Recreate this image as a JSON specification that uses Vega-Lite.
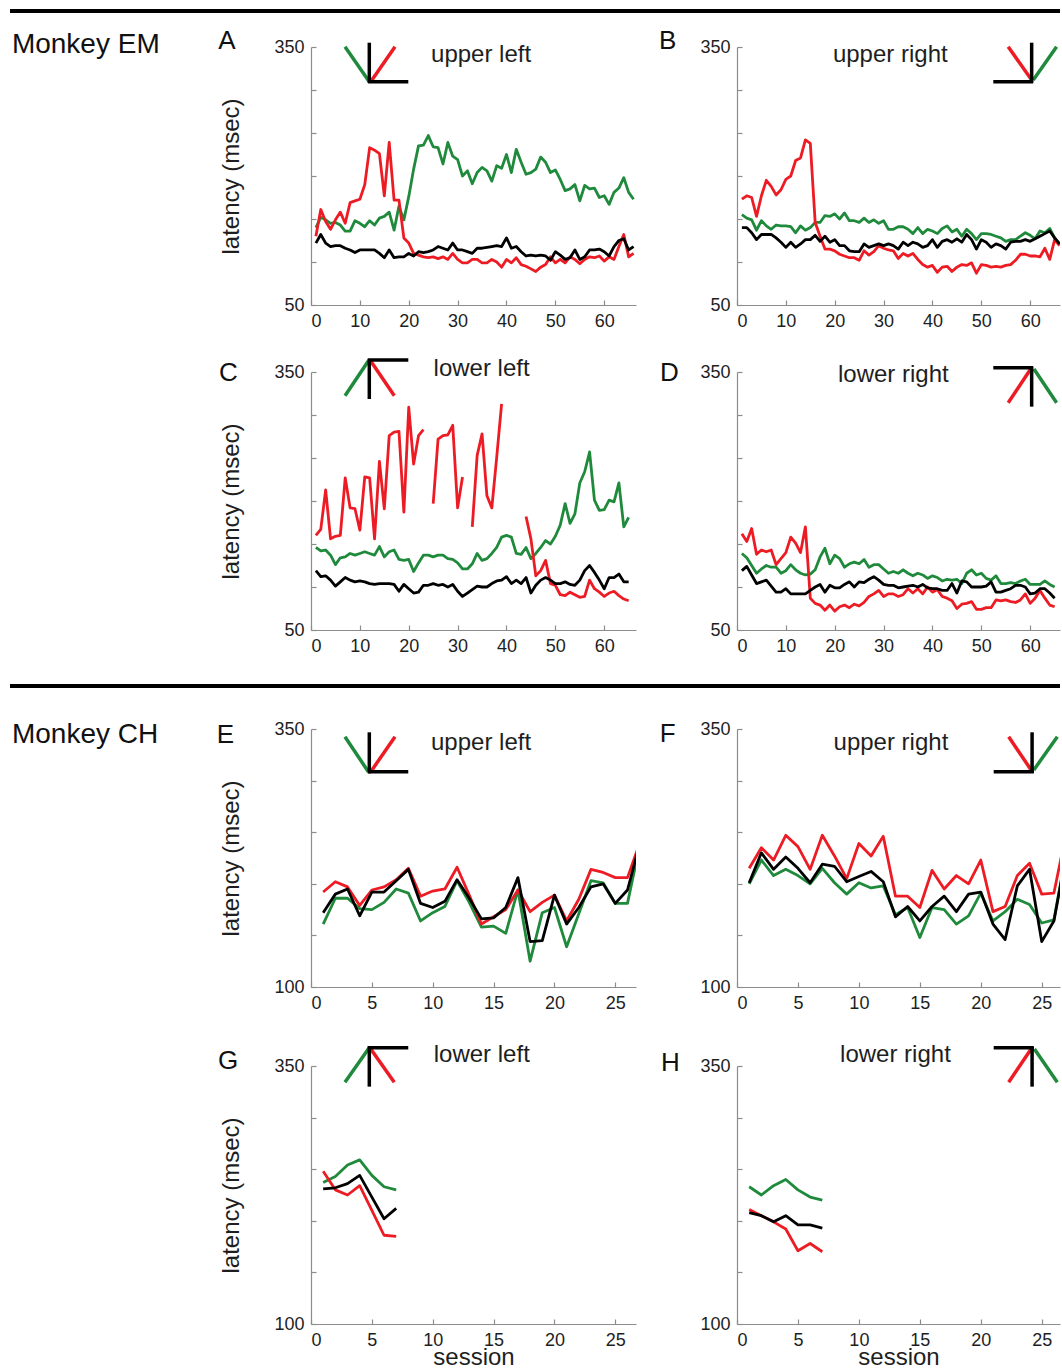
{
"$schema": "https://vega.github.io/schema/vega-lite/v6.json",
"background": "white",
"padding": {"left": 8, "top": 9, "right": 0, "bottom": 0},
"columns": 5,
"spacing": {"row": 0, "column": 0},
"align": "each",
"bounds": "flush",
"config": {
 "font": "Liberation Sans",
 "view": {"stroke": null},
 "axis": {"domainColor": "#8c8c8c", "domainWidth": 1.2, "tickColor": "#8c8c8c", "tickWidth": 1.2, "tickSize": -5, "labelPadding": 12, "labelFontSize": 18, "labelColor": "#1e1e1e", "grid": false, "titleFontSize": 24, "titleFontWeight": "normal", "titleColor": "#1e1e1e"},
 "axisY": {"titlePadding": 30},
 "axisX": {"titlePadding": -4}
},
"datasets": {
 "bar": [{"from": 0, "to": 1, "level": 1}],
 "panelA": [
{"session":1,"cond":"green","msec":140},{"session":2,"cond":"green","msec":152},{"session":3,"cond":"green","msec":149},{"session":4,"cond":"green","msec":145},{"session":5,"cond":"green","msec":146},{"session":6,"cond":"green","msec":143},{"session":7,"cond":"green","msec":136},{"session":8,"cond":"green","msec":136},{"session":9,"cond":"green","msec":148},{"session":10,"cond":"green","msec":145},{"session":11,"cond":"green","msec":141},{"session":12,"cond":"green","msec":148},{"session":13,"cond":"green","msec":143},{"session":14,"cond":"green","msec":151},{"session":15,"cond":"green","msec":153},{"session":16,"cond":"green","msec":158},{"session":17,"cond":"green","msec":137},{"session":18,"cond":"green","msec":165},{"session":19,"cond":"green","msec":149},{"session":20,"cond":"green","msec":176},{"session":21,"cond":"green","msec":208},{"session":22,"cond":"green","msec":235},{"session":23,"cond":"green","msec":236},{"session":24,"cond":"green","msec":247},{"session":25,"cond":"green","msec":234},{"session":26,"cond":"green","msec":233},{"session":27,"cond":"green","msec":214},{"session":28,"cond":"green","msec":239},{"session":29,"cond":"green","msec":223},{"session":30,"cond":"green","msec":219},{"session":31,"cond":"green","msec":200},{"session":32,"cond":"green","msec":206},{"session":33,"cond":"green","msec":191},{"session":34,"cond":"green","msec":204},{"session":35,"cond":"green","msec":210},{"session":36,"cond":"green","msec":206},{"session":37,"cond":"green","msec":194},{"session":38,"cond":"green","msec":212},{"session":39,"cond":"green","msec":209},{"session":40,"cond":"green","msec":225},{"session":41,"cond":"green","msec":204},{"session":42,"cond":"green","msec":231},{"session":43,"cond":"green","msec":216},{"session":44,"cond":"green","msec":202},{"session":45,"cond":"green","msec":204},{"session":46,"cond":"green","msec":208},{"session":47,"cond":"green","msec":222},{"session":48,"cond":"green","msec":216},{"session":49,"cond":"green","msec":204},{"session":50,"cond":"green","msec":207},{"session":51,"cond":"green","msec":196},{"session":52,"cond":"green","msec":183},{"session":53,"cond":"green","msec":185},{"session":54,"cond":"green","msec":190},{"session":55,"cond":"green","msec":171},{"session":56,"cond":"green","msec":189},{"session":57,"cond":"green","msec":185},{"session":58,"cond":"green","msec":186},{"session":59,"cond":"green","msec":175},{"session":60,"cond":"green","msec":177},{"session":61,"cond":"green","msec":167},{"session":62,"cond":"green","msec":181},{"session":63,"cond":"green","msec":186},{"session":64,"cond":"green","msec":198},{"session":65,"cond":"green","msec":181},{"session":66,"cond":"green","msec":173},
{"session":1,"cond":"red","msec":130},{"session":2,"cond":"red","msec":161},{"session":3,"cond":"red","msec":147},{"session":4,"cond":"red","msec":138},{"session":5,"cond":"red","msec":149},{"session":6,"cond":"red","msec":158},{"session":7,"cond":"red","msec":145},{"session":8,"cond":"red","msec":169},{"session":9,"cond":"red","msec":171},{"session":10,"cond":"red","msec":173},{"session":11,"cond":"red","msec":190},{"session":12,"cond":"red","msec":233},{"session":13,"cond":"red","msec":230},{"session":14,"cond":"red","msec":226},{"session":15,"cond":"red","msec":177},{"session":16,"cond":"red","msec":239},{"session":17,"cond":"red","msec":172},{"session":18,"cond":"red","msec":172},{"session":19,"cond":"red","msec":128},{"session":20,"cond":"red","msec":122},{"session":21,"cond":"red","msec":110},{"session":22,"cond":"red","msec":108},{"session":23,"cond":"red","msec":106},{"session":24,"cond":"red","msec":105},{"session":25,"cond":"red","msec":106},{"session":26,"cond":"red","msec":104},{"session":27,"cond":"red","msec":106},{"session":28,"cond":"red","msec":103},{"session":29,"cond":"red","msec":110},{"session":30,"cond":"red","msec":103},{"session":31,"cond":"red","msec":99},{"session":32,"cond":"red","msec":99},{"session":33,"cond":"red","msec":103},{"session":34,"cond":"red","msec":103},{"session":35,"cond":"red","msec":99},{"session":36,"cond":"red","msec":99},{"session":37,"cond":"red","msec":103},{"session":38,"cond":"red","msec":100},{"session":39,"cond":"red","msec":94},{"session":40,"cond":"red","msec":103},{"session":41,"cond":"red","msec":99},{"session":42,"cond":"red","msec":105},{"session":43,"cond":"red","msec":97},{"session":44,"cond":"red","msec":95},{"session":45,"cond":"red","msec":92},{"session":46,"cond":"red","msec":89},{"session":47,"cond":"red","msec":94},{"session":48,"cond":"red","msec":97},{"session":49,"cond":"red","msec":106},{"session":50,"cond":"red","msec":99},{"session":51,"cond":"red","msec":103},{"session":52,"cond":"red","msec":99},{"session":53,"cond":"red","msec":106},{"session":54,"cond":"red","msec":103},{"session":55,"cond":"red","msec":98},{"session":56,"cond":"red","msec":103},{"session":57,"cond":"red","msec":106},{"session":58,"cond":"red","msec":105},{"session":59,"cond":"red","msec":107},{"session":60,"cond":"red","msec":101},{"session":61,"cond":"red","msec":106},{"session":62,"cond":"red","msec":103},{"session":63,"cond":"red","msec":118},{"session":64,"cond":"red","msec":132},{"session":65,"cond":"red","msec":106},{"session":66,"cond":"red","msec":110},
{"session":1,"cond":"black","msec":122},{"session":2,"cond":"black","msec":132},{"session":3,"cond":"black","msec":122},{"session":4,"cond":"black","msec":118},{"session":5,"cond":"black","msec":119},{"session":6,"cond":"black","msec":119},{"session":7,"cond":"black","msec":116},{"session":8,"cond":"black","msec":114},{"session":9,"cond":"black","msec":111},{"session":10,"cond":"black","msec":114},{"session":11,"cond":"black","msec":114},{"session":12,"cond":"black","msec":114},{"session":13,"cond":"black","msec":114},{"session":14,"cond":"black","msec":110},{"session":15,"cond":"black","msec":105},{"session":16,"cond":"black","msec":114},{"session":17,"cond":"black","msec":105},{"session":18,"cond":"black","msec":106},{"session":19,"cond":"black","msec":106},{"session":20,"cond":"black","msec":110},{"session":21,"cond":"black","msec":107},{"session":22,"cond":"black","msec":112},{"session":23,"cond":"black","msec":111},{"session":24,"cond":"black","msec":112},{"session":25,"cond":"black","msec":114},{"session":26,"cond":"black","msec":118},{"session":27,"cond":"black","msec":116},{"session":28,"cond":"black","msec":114},{"session":29,"cond":"black","msec":122},{"session":30,"cond":"black","msec":114},{"session":31,"cond":"black","msec":114},{"session":32,"cond":"black","msec":112},{"session":33,"cond":"black","msec":110},{"session":34,"cond":"black","msec":116},{"session":35,"cond":"black","msec":116},{"session":36,"cond":"black","msec":117},{"session":37,"cond":"black","msec":118},{"session":38,"cond":"black","msec":119},{"session":39,"cond":"black","msec":118},{"session":40,"cond":"black","msec":128},{"session":41,"cond":"black","msec":116},{"session":42,"cond":"black","msec":118},{"session":43,"cond":"black","msec":112},{"session":44,"cond":"black","msec":107},{"session":45,"cond":"black","msec":108},{"session":46,"cond":"black","msec":107},{"session":47,"cond":"black","msec":108},{"session":48,"cond":"black","msec":107},{"session":49,"cond":"black","msec":102},{"session":50,"cond":"black","msec":112},{"session":51,"cond":"black","msec":108},{"session":52,"cond":"black","msec":103},{"session":53,"cond":"black","msec":105},{"session":54,"cond":"black","msec":114},{"session":55,"cond":"black","msec":103},{"session":56,"cond":"black","msec":106},{"session":57,"cond":"black","msec":114},{"session":58,"cond":"black","msec":114},{"session":59,"cond":"black","msec":115},{"session":60,"cond":"black","msec":112},{"session":61,"cond":"black","msec":107},{"session":62,"cond":"black","msec":118},{"session":63,"cond":"black","msec":125},{"session":64,"cond":"black","msec":127},{"session":65,"cond":"black","msec":114},{"session":66,"cond":"black","msec":118}
 ],
 "panelB": [
{"session":1,"cond":"green","msec":155},{"session":2,"cond":"green","msec":151},{"session":3,"cond":"green","msec":149},{"session":4,"cond":"green","msec":137},{"session":5,"cond":"green","msec":148},{"session":6,"cond":"green","msec":142},{"session":7,"cond":"green","msec":138},{"session":8,"cond":"green","msec":143},{"session":9,"cond":"green","msec":142},{"session":10,"cond":"green","msec":142},{"session":11,"cond":"green","msec":141},{"session":12,"cond":"green","msec":134},{"session":13,"cond":"green","msec":142},{"session":14,"cond":"green","msec":137},{"session":15,"cond":"green","msec":140},{"session":16,"cond":"green","msec":146},{"session":17,"cond":"green","msec":146},{"session":18,"cond":"green","msec":154},{"session":19,"cond":"green","msec":153},{"session":20,"cond":"green","msec":156},{"session":21,"cond":"green","msec":150},{"session":22,"cond":"green","msec":157},{"session":23,"cond":"green","msec":148},{"session":24,"cond":"green","msec":148},{"session":25,"cond":"green","msec":146},{"session":26,"cond":"green","msec":151},{"session":27,"cond":"green","msec":146},{"session":28,"cond":"green","msec":149},{"session":29,"cond":"green","msec":145},{"session":30,"cond":"green","msec":148},{"session":31,"cond":"green","msec":138},{"session":32,"cond":"green","msec":138},{"session":33,"cond":"green","msec":141},{"session":34,"cond":"green","msec":141},{"session":35,"cond":"green","msec":138},{"session":36,"cond":"green","msec":133},{"session":37,"cond":"green","msec":140},{"session":38,"cond":"green","msec":133},{"session":39,"cond":"green","msec":138},{"session":40,"cond":"green","msec":136},{"session":41,"cond":"green","msec":133},{"session":42,"cond":"green","msec":139},{"session":43,"cond":"green","msec":142},{"session":44,"cond":"green","msec":135},{"session":45,"cond":"green","msec":138},{"session":46,"cond":"green","msec":130},{"session":47,"cond":"green","msec":138},{"session":48,"cond":"green","msec":133},{"session":49,"cond":"green","msec":126},{"session":50,"cond":"green","msec":133},{"session":51,"cond":"green","msec":133},{"session":52,"cond":"green","msec":132},{"session":53,"cond":"green","msec":130},{"session":54,"cond":"green","msec":128},{"session":55,"cond":"green","msec":124},{"session":56,"cond":"green","msec":126},{"session":57,"cond":"green","msec":126},{"session":58,"cond":"green","msec":130},{"session":59,"cond":"green","msec":134},{"session":60,"cond":"green","msec":131},{"session":61,"cond":"green","msec":127},{"session":62,"cond":"green","msec":136},{"session":63,"cond":"green","msec":134},{"session":64,"cond":"green","msec":139},{"session":65,"cond":"green","msec":128},{"session":66,"cond":"green","msec":121},
{"session":1,"cond":"red","msec":173},{"session":2,"cond":"red","msec":177},{"session":3,"cond":"red","msec":175},{"session":4,"cond":"red","msec":153},{"session":5,"cond":"red","msec":177},{"session":6,"cond":"red","msec":195},{"session":7,"cond":"red","msec":188},{"session":8,"cond":"red","msec":178},{"session":9,"cond":"red","msec":184},{"session":10,"cond":"red","msec":196},{"session":11,"cond":"red","msec":200},{"session":12,"cond":"red","msec":218},{"session":13,"cond":"red","msec":221},{"session":14,"cond":"red","msec":242},{"session":15,"cond":"red","msec":238},{"session":16,"cond":"red","msec":146},{"session":17,"cond":"red","msec":130},{"session":18,"cond":"red","msec":115},{"session":19,"cond":"red","msec":115},{"session":20,"cond":"red","msec":113},{"session":21,"cond":"red","msec":109},{"session":22,"cond":"red","msec":107},{"session":23,"cond":"red","msec":105},{"session":24,"cond":"red","msec":105},{"session":25,"cond":"red","msec":102},{"session":26,"cond":"red","msec":113},{"session":27,"cond":"red","msec":108},{"session":28,"cond":"red","msec":112},{"session":29,"cond":"red","msec":119},{"session":30,"cond":"red","msec":116},{"session":31,"cond":"red","msec":114},{"session":32,"cond":"red","msec":113},{"session":33,"cond":"red","msec":104},{"session":34,"cond":"red","msec":110},{"session":35,"cond":"red","msec":107},{"session":36,"cond":"red","msec":110},{"session":37,"cond":"red","msec":103},{"session":38,"cond":"red","msec":97},{"session":39,"cond":"red","msec":94},{"session":40,"cond":"red","msec":96},{"session":41,"cond":"red","msec":88},{"session":42,"cond":"red","msec":94},{"session":43,"cond":"red","msec":95},{"session":44,"cond":"red","msec":89},{"session":45,"cond":"red","msec":94},{"session":46,"cond":"red","msec":97},{"session":47,"cond":"red","msec":96},{"session":48,"cond":"red","msec":99},{"session":49,"cond":"red","msec":87},{"session":50,"cond":"red","msec":97},{"session":51,"cond":"red","msec":96},{"session":52,"cond":"red","msec":94},{"session":53,"cond":"red","msec":95},{"session":54,"cond":"red","msec":94},{"session":55,"cond":"red","msec":96},{"session":56,"cond":"red","msec":97},{"session":57,"cond":"red","msec":102},{"session":58,"cond":"red","msec":109},{"session":59,"cond":"red","msec":109},{"session":60,"cond":"red","msec":107},{"session":61,"cond":"red","msec":107},{"session":62,"cond":"red","msec":106},{"session":63,"cond":"red","msec":116},{"session":64,"cond":"red","msec":103},{"session":65,"cond":"red","msec":126},{"session":66,"cond":"red","msec":119},
{"session":1,"cond":"black","msec":140},{"session":2,"cond":"black","msec":140},{"session":3,"cond":"black","msec":134},{"session":4,"cond":"black","msec":126},{"session":5,"cond":"black","msec":132},{"session":6,"cond":"black","msec":132},{"session":7,"cond":"black","msec":132},{"session":8,"cond":"black","msec":128},{"session":9,"cond":"black","msec":123},{"session":10,"cond":"black","msec":117},{"session":11,"cond":"black","msec":123},{"session":12,"cond":"black","msec":117},{"session":13,"cond":"black","msec":121},{"session":14,"cond":"black","msec":126},{"session":15,"cond":"black","msec":126},{"session":16,"cond":"black","msec":131},{"session":17,"cond":"black","msec":124},{"session":18,"cond":"black","msec":130},{"session":19,"cond":"black","msec":123},{"session":20,"cond":"black","msec":126},{"session":21,"cond":"black","msec":119},{"session":22,"cond":"black","msec":119},{"session":23,"cond":"black","msec":113},{"session":24,"cond":"black","msec":112},{"session":25,"cond":"black","msec":112},{"session":26,"cond":"black","msec":121},{"session":27,"cond":"black","msec":117},{"session":28,"cond":"black","msec":119},{"session":29,"cond":"black","msec":121},{"session":30,"cond":"black","msec":119},{"session":31,"cond":"black","msec":121},{"session":32,"cond":"black","msec":119},{"session":33,"cond":"black","msec":115},{"session":34,"cond":"black","msec":123},{"session":35,"cond":"black","msec":119},{"session":36,"cond":"black","msec":123},{"session":37,"cond":"black","msec":121},{"session":38,"cond":"black","msec":117},{"session":39,"cond":"black","msec":119},{"session":40,"cond":"black","msec":126},{"session":41,"cond":"black","msec":117},{"session":42,"cond":"black","msec":124},{"session":43,"cond":"black","msec":126},{"session":44,"cond":"black","msec":123},{"session":45,"cond":"black","msec":127},{"session":46,"cond":"black","msec":123},{"session":47,"cond":"black","msec":132},{"session":48,"cond":"black","msec":126},{"session":49,"cond":"black","msec":115},{"session":50,"cond":"black","msec":126},{"session":51,"cond":"black","msec":123},{"session":52,"cond":"black","msec":117},{"session":53,"cond":"black","msec":121},{"session":54,"cond":"black","msec":119},{"session":55,"cond":"black","msec":115},{"session":56,"cond":"black","msec":123},{"session":57,"cond":"black","msec":124},{"session":58,"cond":"black","msec":124},{"session":59,"cond":"black","msec":126},{"session":60,"cond":"black","msec":124},{"session":61,"cond":"black","msec":127},{"session":62,"cond":"black","msec":130},{"session":63,"cond":"black","msec":133},{"session":64,"cond":"black","msec":136},{"session":65,"cond":"black","msec":128},{"session":66,"cond":"black","msec":121}
 ],
 "panelC": [
{"session":1,"cond":"green","msec":146},{"session":2,"cond":"green","msec":142},{"session":3,"cond":"green","msec":143},{"session":4,"cond":"green","msec":137},{"session":5,"cond":"green","msec":126},{"session":6,"cond":"green","msec":134},{"session":7,"cond":"green","msec":135},{"session":8,"cond":"green","msec":139},{"session":9,"cond":"green","msec":137},{"session":10,"cond":"green","msec":139},{"session":11,"cond":"green","msec":141},{"session":12,"cond":"green","msec":139},{"session":13,"cond":"green","msec":137},{"session":14,"cond":"green","msec":147},{"session":15,"cond":"green","msec":135},{"session":16,"cond":"green","msec":141},{"session":17,"cond":"green","msec":143},{"session":18,"cond":"green","msec":132},{"session":19,"cond":"green","msec":131},{"session":20,"cond":"green","msec":132},{"session":21,"cond":"green","msec":118},{"session":22,"cond":"green","msec":128},{"session":23,"cond":"green","msec":137},{"session":24,"cond":"green","msec":137},{"session":25,"cond":"green","msec":135},{"session":26,"cond":"green","msec":137},{"session":27,"cond":"green","msec":137},{"session":28,"cond":"green","msec":133},{"session":29,"cond":"green","msec":132},{"session":30,"cond":"green","msec":128},{"session":31,"cond":"green","msec":121},{"session":32,"cond":"green","msec":121},{"session":33,"cond":"green","msec":127},{"session":34,"cond":"green","msec":139},{"session":35,"cond":"green","msec":131},{"session":36,"cond":"green","msec":133},{"session":37,"cond":"green","msec":139},{"session":38,"cond":"green","msec":146},{"session":39,"cond":"green","msec":158},{"session":40,"cond":"green","msec":160},{"session":41,"cond":"green","msec":158},{"session":42,"cond":"green","msec":139},{"session":43,"cond":"green","msec":138},{"session":44,"cond":"green","msec":146},{"session":45,"cond":"green","msec":133},{"session":46,"cond":"green","msec":139},{"session":47,"cond":"green","msec":146},{"session":48,"cond":"green","msec":154},{"session":49,"cond":"green","msec":150},{"session":50,"cond":"green","msec":159},{"session":51,"cond":"green","msec":172},{"session":52,"cond":"green","msec":197},{"session":53,"cond":"green","msec":174},{"session":54,"cond":"green","msec":185},{"session":55,"cond":"green","msec":221},{"session":56,"cond":"green","msec":234},{"session":57,"cond":"green","msec":257},{"session":58,"cond":"green","msec":201},{"session":59,"cond":"green","msec":189},{"session":60,"cond":"green","msec":190},{"session":61,"cond":"green","msec":201},{"session":62,"cond":"green","msec":199},{"session":63,"cond":"green","msec":221},{"session":64,"cond":"green","msec":170},{"session":65,"cond":"green","msec":181},
{"session":1,"cond":"red","run":1,"msec":160},{"session":2,"cond":"red","run":1,"msec":167},{"session":3,"cond":"red","run":1,"msec":213},{"session":4,"cond":"red","run":1,"msec":156},{"session":5,"cond":"red","run":1,"msec":159},{"session":6,"cond":"red","run":1,"msec":160},{"session":7,"cond":"red","run":1,"msec":227},{"session":8,"cond":"red","run":1,"msec":192},{"session":9,"cond":"red","run":1,"msec":191},{"session":10,"cond":"red","run":1,"msec":166},{"session":11,"cond":"red","run":1,"msec":228},{"session":12,"cond":"red","run":1,"msec":227},{"session":13,"cond":"red","run":1,"msec":156},{"session":14,"cond":"red","run":1,"msec":246},{"session":15,"cond":"red","run":1,"msec":191},{"session":16,"cond":"red","run":1,"msec":276},{"session":17,"cond":"red","run":1,"msec":280},{"session":18,"cond":"red","run":1,"msec":281},{"session":19,"cond":"red","run":1,"msec":187},{"session":20,"cond":"red","run":1,"msec":309},{"session":21,"cond":"red","run":1,"msec":243},{"session":22,"cond":"red","run":1,"msec":276},{"session":23,"cond":"red","run":1,"msec":283},
{"session":25,"cond":"red","run":2,"msec":197},{"session":26,"cond":"red","run":2,"msec":272},{"session":27,"cond":"red","run":2,"msec":276},{"session":28,"cond":"red","run":2,"msec":277},{"session":29,"cond":"red","run":2,"msec":288},{"session":30,"cond":"red","run":2,"msec":192},{"session":31,"cond":"red","run":2,"msec":228},
{"session":33,"cond":"red","run":3,"msec":170},{"session":34,"cond":"red","run":3,"msec":253},{"session":35,"cond":"red","run":3,"msec":278},{"session":36,"cond":"red","run":3,"msec":206},{"session":37,"cond":"red","run":3,"msec":192},{"session":38,"cond":"red","run":3,"msec":251},{"session":39,"cond":"red","run":3,"msec":313},
{"session":44,"cond":"red","run":4,"msec":182},{"session":45,"cond":"red","run":4,"msec":156},{"session":46,"cond":"red","run":4,"msec":113},{"session":47,"cond":"red","run":4,"msec":119},{"session":48,"cond":"red","run":4,"msec":131},{"session":49,"cond":"red","run":4,"msec":104},{"session":50,"cond":"red","run":4,"msec":102},{"session":51,"cond":"red","run":4,"msec":91},{"session":52,"cond":"red","run":4,"msec":90},{"session":53,"cond":"red","run":4,"msec":94},{"session":54,"cond":"red","run":4,"msec":91},{"session":55,"cond":"red","run":4,"msec":88},{"session":56,"cond":"red","run":4,"msec":89},{"session":57,"cond":"red","run":4,"msec":108},{"session":58,"cond":"red","run":4,"msec":98},{"session":59,"cond":"red","run":4,"msec":94},{"session":60,"cond":"red","run":4,"msec":89},{"session":61,"cond":"red","run":4,"msec":93},{"session":62,"cond":"red","run":4,"msec":95},{"session":63,"cond":"red","run":4,"msec":90},{"session":64,"cond":"red","run":4,"msec":86},{"session":65,"cond":"red","run":4,"msec":84},
{"session":1,"cond":"black","msec":119},{"session":2,"cond":"black","msec":112},{"session":3,"cond":"black","msec":113},{"session":4,"cond":"black","msec":108},{"session":5,"cond":"black","msec":101},{"session":6,"cond":"black","msec":106},{"session":7,"cond":"black","msec":111},{"session":8,"cond":"black","msec":108},{"session":9,"cond":"black","msec":106},{"session":10,"cond":"black","msec":107},{"session":11,"cond":"black","msec":106},{"session":12,"cond":"black","msec":104},{"session":13,"cond":"black","msec":103},{"session":14,"cond":"black","msec":104},{"session":15,"cond":"black","msec":104},{"session":16,"cond":"black","msec":104},{"session":17,"cond":"black","msec":103},{"session":18,"cond":"black","msec":95},{"session":19,"cond":"black","msec":103},{"session":20,"cond":"black","msec":98},{"session":21,"cond":"black","msec":93},{"session":22,"cond":"black","msec":94},{"session":23,"cond":"black","msec":102},{"session":24,"cond":"black","msec":102},{"session":25,"cond":"black","msec":104},{"session":26,"cond":"black","msec":102},{"session":27,"cond":"black","msec":103},{"session":28,"cond":"black","msec":100},{"session":29,"cond":"black","msec":103},{"session":30,"cond":"black","msec":95},{"session":31,"cond":"black","msec":89},{"session":32,"cond":"black","msec":93},{"session":33,"cond":"black","msec":97},{"session":34,"cond":"black","msec":101},{"session":35,"cond":"black","msec":100},{"session":36,"cond":"black","msec":100},{"session":37,"cond":"black","msec":104},{"session":38,"cond":"black","msec":107},{"session":39,"cond":"black","msec":108},{"session":40,"cond":"black","msec":112},{"session":41,"cond":"black","msec":104},{"session":42,"cond":"black","msec":108},{"session":43,"cond":"black","msec":104},{"session":44,"cond":"black","msec":111},{"session":45,"cond":"black","msec":93},{"session":46,"cond":"black","msec":102},{"session":47,"cond":"black","msec":108},{"session":48,"cond":"black","msec":111},{"session":49,"cond":"black","msec":108},{"session":50,"cond":"black","msec":104},{"session":51,"cond":"black","msec":104},{"session":52,"cond":"black","msec":106},{"session":53,"cond":"black","msec":103},{"session":54,"cond":"black","msec":102},{"session":55,"cond":"black","msec":108},{"session":56,"cond":"black","msec":119},{"session":57,"cond":"black","msec":125},{"session":58,"cond":"black","msec":117},{"session":59,"cond":"black","msec":108},{"session":60,"cond":"black","msec":98},{"session":61,"cond":"black","msec":111},{"session":62,"cond":"black","msec":111},{"session":63,"cond":"black","msec":115},{"session":64,"cond":"black","msec":106},{"session":65,"cond":"black","msec":106}
 ],
 "panelD": [
{"session":1,"cond":"green","msec":139},{"session":2,"cond":"green","msec":134},{"session":3,"cond":"green","msec":125},{"session":4,"cond":"green","msec":116},{"session":5,"cond":"green","msec":121},{"session":6,"cond":"green","msec":125},{"session":7,"cond":"green","msec":123},{"session":8,"cond":"green","msec":123},{"session":9,"cond":"green","msec":116},{"session":10,"cond":"green","msec":119},{"session":11,"cond":"green","msec":126},{"session":12,"cond":"green","msec":120},{"session":13,"cond":"green","msec":116},{"session":14,"cond":"green","msec":114},{"session":15,"cond":"green","msec":115},{"session":16,"cond":"green","msec":120},{"session":17,"cond":"green","msec":135},{"session":18,"cond":"green","msec":145},{"session":19,"cond":"green","msec":127},{"session":20,"cond":"green","msec":137},{"session":21,"cond":"green","msec":133},{"session":22,"cond":"green","msec":123},{"session":23,"cond":"green","msec":127},{"session":24,"cond":"green","msec":129},{"session":25,"cond":"green","msec":127},{"session":26,"cond":"green","msec":132},{"session":27,"cond":"green","msec":123},{"session":28,"cond":"green","msec":126},{"session":29,"cond":"green","msec":126},{"session":30,"cond":"green","msec":121},{"session":31,"cond":"green","msec":116},{"session":32,"cond":"green","msec":118},{"session":33,"cond":"green","msec":116},{"session":34,"cond":"green","msec":120},{"session":35,"cond":"green","msec":116},{"session":36,"cond":"green","msec":113},{"session":37,"cond":"green","msec":116},{"session":38,"cond":"green","msec":114},{"session":39,"cond":"green","msec":110},{"session":40,"cond":"green","msec":113},{"session":41,"cond":"green","msec":111},{"session":42,"cond":"green","msec":107},{"session":43,"cond":"green","msec":109},{"session":44,"cond":"green","msec":108},{"session":45,"cond":"green","msec":109},{"session":46,"cond":"green","msec":104},{"session":47,"cond":"green","msec":116},{"session":48,"cond":"green","msec":120},{"session":49,"cond":"green","msec":114},{"session":50,"cond":"green","msec":116},{"session":51,"cond":"green","msec":110},{"session":52,"cond":"green","msec":108},{"session":53,"cond":"green","msec":113},{"session":54,"cond":"green","msec":104},{"session":55,"cond":"green","msec":104},{"session":56,"cond":"green","msec":105},{"session":57,"cond":"green","msec":104},{"session":58,"cond":"green","msec":107},{"session":59,"cond":"green","msec":109},{"session":60,"cond":"green","msec":103},{"session":61,"cond":"green","msec":103},{"session":62,"cond":"green","msec":103},{"session":63,"cond":"green","msec":107},{"session":64,"cond":"green","msec":103},{"session":65,"cond":"green","msec":100},
{"session":1,"cond":"red","msec":162},{"session":2,"cond":"red","msec":153},{"session":3,"cond":"red","msec":168},{"session":4,"cond":"red","msec":138},{"session":5,"cond":"red","msec":143},{"session":6,"cond":"red","msec":141},{"session":7,"cond":"red","msec":143},{"session":8,"cond":"red","msec":126},{"session":9,"cond":"red","msec":133},{"session":10,"cond":"red","msec":140},{"session":11,"cond":"red","msec":158},{"session":12,"cond":"red","msec":151},{"session":13,"cond":"red","msec":140},{"session":14,"cond":"red","msec":170},{"session":15,"cond":"red","msec":87},{"session":16,"cond":"red","msec":81},{"session":17,"cond":"red","msec":79},{"session":18,"cond":"red","msec":73},{"session":19,"cond":"red","msec":79},{"session":20,"cond":"red","msec":72},{"session":21,"cond":"red","msec":77},{"session":22,"cond":"red","msec":79},{"session":23,"cond":"red","msec":76},{"session":24,"cond":"red","msec":80},{"session":25,"cond":"red","msec":78},{"session":26,"cond":"red","msec":82},{"session":27,"cond":"red","msec":89},{"session":28,"cond":"red","msec":92},{"session":29,"cond":"red","msec":96},{"session":30,"cond":"red","msec":89},{"session":31,"cond":"red","msec":92},{"session":32,"cond":"red","msec":92},{"session":33,"cond":"red","msec":89},{"session":34,"cond":"red","msec":91},{"session":35,"cond":"red","msec":98},{"session":36,"cond":"red","msec":93},{"session":37,"cond":"red","msec":98},{"session":38,"cond":"red","msec":92},{"session":39,"cond":"red","msec":100},{"session":40,"cond":"red","msec":94},{"session":41,"cond":"red","msec":97},{"session":42,"cond":"red","msec":89},{"session":43,"cond":"red","msec":87},{"session":44,"cond":"red","msec":84},{"session":45,"cond":"red","msec":75},{"session":46,"cond":"red","msec":80},{"session":47,"cond":"red","msec":81},{"session":48,"cond":"red","msec":83},{"session":49,"cond":"red","msec":74},{"session":50,"cond":"red","msec":74},{"session":51,"cond":"red","msec":76},{"session":52,"cond":"red","msec":76},{"session":53,"cond":"red","msec":85},{"session":54,"cond":"red","msec":84},{"session":55,"cond":"red","msec":85},{"session":56,"cond":"red","msec":83},{"session":57,"cond":"red","msec":82},{"session":58,"cond":"red","msec":85},{"session":59,"cond":"red","msec":92},{"session":60,"cond":"red","msec":81},{"session":61,"cond":"red","msec":87},{"session":62,"cond":"red","msec":96},{"session":63,"cond":"red","msec":87},{"session":64,"cond":"red","msec":79},{"session":65,"cond":"red","msec":77},
{"session":1,"cond":"black","msec":119},{"session":2,"cond":"black","msec":124},{"session":3,"cond":"black","msec":114},{"session":4,"cond":"black","msec":104},{"session":5,"cond":"black","msec":106},{"session":6,"cond":"black","msec":108},{"session":7,"cond":"black","msec":101},{"session":8,"cond":"black","msec":94},{"session":9,"cond":"black","msec":94},{"session":10,"cond":"black","msec":98},{"session":11,"cond":"black","msec":92},{"session":12,"cond":"black","msec":92},{"session":13,"cond":"black","msec":92},{"session":14,"cond":"black","msec":92},{"session":15,"cond":"black","msec":96},{"session":16,"cond":"black","msec":100},{"session":17,"cond":"black","msec":103},{"session":18,"cond":"black","msec":94},{"session":19,"cond":"black","msec":102},{"session":20,"cond":"black","msec":99},{"session":21,"cond":"black","msec":99},{"session":22,"cond":"black","msec":103},{"session":23,"cond":"black","msec":106},{"session":24,"cond":"black","msec":100},{"session":25,"cond":"black","msec":106},{"session":26,"cond":"black","msec":105},{"session":27,"cond":"black","msec":109},{"session":28,"cond":"black","msec":112},{"session":29,"cond":"black","msec":108},{"session":30,"cond":"black","msec":103},{"session":31,"cond":"black","msec":102},{"session":32,"cond":"black","msec":102},{"session":33,"cond":"black","msec":99},{"session":34,"cond":"black","msec":100},{"session":35,"cond":"black","msec":101},{"session":36,"cond":"black","msec":102},{"session":37,"cond":"black","msec":100},{"session":38,"cond":"black","msec":103},{"session":39,"cond":"black","msec":99},{"session":40,"cond":"black","msec":98},{"session":41,"cond":"black","msec":98},{"session":42,"cond":"black","msec":96},{"session":43,"cond":"black","msec":96},{"session":44,"cond":"black","msec":104},{"session":45,"cond":"black","msec":93},{"session":46,"cond":"black","msec":107},{"session":47,"cond":"black","msec":106},{"session":48,"cond":"black","msec":100},{"session":49,"cond":"black","msec":100},{"session":50,"cond":"black","msec":100},{"session":51,"cond":"black","msec":101},{"session":52,"cond":"black","msec":106},{"session":53,"cond":"black","msec":94},{"session":54,"cond":"black","msec":94},{"session":55,"cond":"black","msec":96},{"session":56,"cond":"black","msec":98},{"session":57,"cond":"black","msec":102},{"session":58,"cond":"black","msec":102},{"session":59,"cond":"black","msec":100},{"session":60,"cond":"black","msec":92},{"session":61,"cond":"black","msec":93},{"session":62,"cond":"black","msec":98},{"session":63,"cond":"black","msec":98},{"session":64,"cond":"black","msec":93},{"session":65,"cond":"black","msec":87}
 ],
 "panelE": [
{"session":1,"cond":"green","msec":161},{"session":2,"cond":"green","msec":186},{"session":3,"cond":"green","msec":186},{"session":4,"cond":"green","msec":176},{"session":5,"cond":"green","msec":175},{"session":6,"cond":"green","msec":182},{"session":7,"cond":"green","msec":195},{"session":8,"cond":"green","msec":191},{"session":9,"cond":"green","msec":164},{"session":10,"cond":"green","msec":172},{"session":11,"cond":"green","msec":178},{"session":12,"cond":"green","msec":203},{"session":13,"cond":"green","msec":182},{"session":14,"cond":"green","msec":158},{"session":15,"cond":"green","msec":159},{"session":16,"cond":"green","msec":152},{"session":17,"cond":"green","msec":194},{"session":18,"cond":"green","msec":125},{"session":19,"cond":"green","msec":172},{"session":20,"cond":"green","msec":177},{"session":21,"cond":"green","msec":139},{"session":22,"cond":"green","msec":171},{"session":23,"cond":"green","msec":203},{"session":24,"cond":"green","msec":201},{"session":25,"cond":"green","msec":181},{"session":26,"cond":"green","msec":181},{"session":27,"cond":"green","msec":237},
{"session":1,"cond":"red","msec":192},{"session":2,"cond":"red","msec":202},{"session":3,"cond":"red","msec":197},{"session":4,"cond":"red","msec":179},{"session":5,"cond":"red","msec":194},{"session":6,"cond":"red","msec":197},{"session":7,"cond":"red","msec":204},{"session":8,"cond":"red","msec":215},{"session":9,"cond":"red","msec":188},{"session":10,"cond":"red","msec":193},{"session":11,"cond":"red","msec":195},{"session":12,"cond":"red","msec":216},{"session":13,"cond":"red","msec":189},{"session":14,"cond":"red","msec":161},{"session":15,"cond":"red","msec":168},{"session":16,"cond":"red","msec":175},{"session":17,"cond":"red","msec":194},{"session":18,"cond":"red","msec":173},{"session":19,"cond":"red","msec":182},{"session":20,"cond":"red","msec":189},{"session":21,"cond":"red","msec":164},{"session":22,"cond":"red","msec":185},{"session":23,"cond":"red","msec":214},{"session":24,"cond":"red","msec":211},{"session":25,"cond":"red","msec":206},{"session":26,"cond":"red","msec":206},{"session":27,"cond":"red","msec":239},
{"session":1,"cond":"black","msec":172},{"session":2,"cond":"black","msec":190},{"session":3,"cond":"black","msec":195},{"session":4,"cond":"black","msec":169},{"session":5,"cond":"black","msec":192},{"session":6,"cond":"black","msec":192},{"session":7,"cond":"black","msec":203},{"session":8,"cond":"black","msec":214},{"session":9,"cond":"black","msec":181},{"session":10,"cond":"black","msec":177},{"session":11,"cond":"black","msec":183},{"session":12,"cond":"black","msec":204},{"session":13,"cond":"black","msec":186},{"session":14,"cond":"black","msec":166},{"session":15,"cond":"black","msec":167},{"session":16,"cond":"black","msec":177},{"session":17,"cond":"black","msec":206},{"session":18,"cond":"black","msec":144},{"session":19,"cond":"black","msec":145},{"session":20,"cond":"black","msec":189},{"session":21,"cond":"black","msec":161},{"session":22,"cond":"black","msec":177},{"session":23,"cond":"black","msec":197},{"session":24,"cond":"black","msec":200},{"session":25,"cond":"black","msec":181},{"session":26,"cond":"black","msec":194},{"session":27,"cond":"black","msec":238}
 ],
 "panelF": [
{"session":1,"cond":"green","msec":200},{"session":2,"cond":"green","msec":223},{"session":3,"cond":"green","msec":208},{"session":4,"cond":"green","msec":214},{"session":5,"cond":"green","msec":208},{"session":6,"cond":"green","msec":200},{"session":7,"cond":"green","msec":215},{"session":8,"cond":"green","msec":201},{"session":9,"cond":"green","msec":190},{"session":10,"cond":"green","msec":201},{"session":11,"cond":"green","msec":196},{"session":12,"cond":"green","msec":198},{"session":13,"cond":"green","msec":170},{"session":14,"cond":"green","msec":177},{"session":15,"cond":"green","msec":148},{"session":16,"cond":"green","msec":177},{"session":17,"cond":"green","msec":175},{"session":18,"cond":"green","msec":161},{"session":19,"cond":"green","msec":169},{"session":20,"cond":"green","msec":191},{"session":21,"cond":"green","msec":164},{"session":22,"cond":"green","msec":173},{"session":23,"cond":"green","msec":185},{"session":24,"cond":"green","msec":180},{"session":25,"cond":"green","msec":162},{"session":26,"cond":"green","msec":165},{"session":27,"cond":"green","msec":230},
{"session":1,"cond":"red","msec":215},{"session":2,"cond":"red","msec":235},{"session":3,"cond":"red","msec":223},{"session":4,"cond":"red","msec":247},{"session":5,"cond":"red","msec":236},{"session":6,"cond":"red","msec":214},{"session":7,"cond":"red","msec":247},{"session":8,"cond":"red","msec":227},{"session":9,"cond":"red","msec":205},{"session":10,"cond":"red","msec":239},{"session":11,"cond":"red","msec":227},{"session":12,"cond":"red","msec":246},{"session":13,"cond":"red","msec":188},{"session":14,"cond":"red","msec":188},{"session":15,"cond":"red","msec":177},{"session":16,"cond":"red","msec":213},{"session":17,"cond":"red","msec":195},{"session":18,"cond":"red","msec":208},{"session":19,"cond":"red","msec":200},{"session":20,"cond":"red","msec":223},{"session":21,"cond":"red","msec":173},{"session":22,"cond":"red","msec":178},{"session":23,"cond":"red","msec":208},{"session":24,"cond":"red","msec":220},{"session":25,"cond":"red","msec":190},{"session":26,"cond":"red","msec":191},{"session":27,"cond":"red","msec":249},
{"session":1,"cond":"black","msec":201},{"session":2,"cond":"black","msec":230},{"session":3,"cond":"black","msec":214},{"session":4,"cond":"black","msec":226},{"session":5,"cond":"black","msec":215},{"session":6,"cond":"black","msec":201},{"session":7,"cond":"black","msec":219},{"session":8,"cond":"black","msec":217},{"session":9,"cond":"black","msec":202},{"session":10,"cond":"black","msec":207},{"session":11,"cond":"black","msec":212},{"session":12,"cond":"black","msec":202},{"session":13,"cond":"black","msec":168},{"session":14,"cond":"black","msec":178},{"session":15,"cond":"black","msec":164},{"session":16,"cond":"black","msec":178},{"session":17,"cond":"black","msec":188},{"session":18,"cond":"black","msec":173},{"session":19,"cond":"black","msec":190},{"session":20,"cond":"black","msec":192},{"session":21,"cond":"black","msec":161},{"session":22,"cond":"black","msec":146},{"session":23,"cond":"black","msec":198},{"session":24,"cond":"black","msec":214},{"session":25,"cond":"black","msec":144},{"session":26,"cond":"black","msec":164},{"session":27,"cond":"black","msec":228}
 ],
 "panelG": [
{"session":1,"cond":"green","msec":237},{"session":2,"cond":"green","msec":243},{"session":3,"cond":"green","msec":254},{"session":4,"cond":"green","msec":259},{"session":5,"cond":"green","msec":244},{"session":6,"cond":"green","msec":233},{"session":7,"cond":"green","msec":230},
{"session":1,"cond":"red","msec":248},{"session":2,"cond":"red","msec":230},{"session":3,"cond":"red","msec":225},{"session":4,"cond":"red","msec":234},{"session":5,"cond":"red","msec":210},{"session":6,"cond":"red","msec":186},{"session":7,"cond":"red","msec":185},
{"session":1,"cond":"black","msec":231},{"session":2,"cond":"black","msec":232},{"session":3,"cond":"black","msec":236},{"session":4,"cond":"black","msec":244},{"session":5,"cond":"black","msec":223},{"session":6,"cond":"black","msec":202},{"session":7,"cond":"black","msec":212}
 ],
 "panelH": [
{"session":1,"cond":"green","msec":233},{"session":2,"cond":"green","msec":225},{"session":3,"cond":"green","msec":234},{"session":4,"cond":"green","msec":240},{"session":5,"cond":"green","msec":230},{"session":6,"cond":"green","msec":223},{"session":7,"cond":"green","msec":220},
{"session":1,"cond":"red","msec":211},{"session":2,"cond":"red","msec":205},{"session":3,"cond":"red","msec":199},{"session":4,"cond":"red","msec":192},{"session":5,"cond":"red","msec":171},{"session":6,"cond":"red","msec":178},{"session":7,"cond":"red","msec":170},
{"session":1,"cond":"black","msec":208},{"session":2,"cond":"black","msec":205},{"session":3,"cond":"black","msec":199},{"session":4,"cond":"black","msec":205},{"session":5,"cond":"black","msec":196},{"session":6,"cond":"black","msec":196},{"session":7,"cond":"black","msec":193}
 ],
 "iconA": [
{"session":6.96,"msec":350.3,"session2":11.93,"msec2":309.7,"cond":"green"},
{"session":12.22,"msec":309.7,"session2":17.19,"msec2":350.3,"cond":"red"},
{"session":11.93,"msec":355,"session2":11.93,"msec2":308.5,"cond":"black"},
{"session":11.7,"msec":309.7,"session2":19.91,"msec2":309.7,"cond":"black"}
 ],
 "iconB": [
{"session":55.5,"msec":350.3,"session2":60.3,"msec2":311.6,"cond":"red"},
{"session":60.63,"msec":311.6,"session2":65.4,"msec2":350.3,"cond":"green"},
{"session":60.3,"msec":355,"session2":60.3,"msec2":308.5,"cond":"black"},
{"session":52.45,"msec":309.7,"session2":60.6,"msec2":309.7,"cond":"black"}
 ],
 "iconC": [
{"session":6.96,"msec":322.4,"session2":11.73,"msec2":362.8,"cond":"green"},
{"session":12.22,"msec":362.8,"session2":17.05,"msec2":322.4,"cond":"red"},
{"session":11.93,"msec":365.1,"session2":11.93,"msec2":318.6,"cond":"black"},
{"session":11.6,"msec":364,"session2":19.91,"msec2":364,"cond":"black"}
 ],
 "iconD": [
{"session":55.5,"msec":314.2,"session2":60.1,"msec2":353.5,"cond":"red"},
{"session":60.77,"msec":353.5,"session2":65.4,"msec2":314.2,"cond":"green"},
{"session":60.3,"msec":356.2,"session2":60.3,"msec2":309.7,"cond":"black"},
{"session":52.45,"msec":355,"session2":60.6,"msec2":355,"cond":"black"}
 ],
 "iconE": [
{"session":2.79,"msec":342.5,"session2":4.71,"msec2":308.6,"cond":"green"},
{"session":4.91,"msec":308.6,"session2":6.9,"msec2":342.5,"cond":"red"},
{"session":4.79,"msec":346.8,"session2":4.79,"msec2":307,"cond":"black"},
{"session":4.7,"msec":308.6,"session2":7.99,"msec2":308.6,"cond":"black"}
 ],
 "iconF": [
{"session":22.29,"msec":342.5,"session2":24.13,"msec2":310.3,"cond":"red"},
{"session":24.35,"msec":310.3,"session2":26.28,"msec2":342.5,"cond":"green"},
{"session":24.21,"msec":346.8,"session2":24.21,"msec2":307.5,"cond":"black"},
{"session":21.06,"msec":308.6,"session2":24.35,"msec2":308.6,"cond":"black"}
 ],
 "iconG": [
{"session":2.79,"msec":334.2,"session2":4.71,"msec2":366.5,"cond":"green"},
{"session":4.91,"msec":366.5,"session2":6.84,"msec2":334.2,"cond":"red"},
{"session":4.79,"msec":368.6,"session2":4.79,"msec2":330,"cond":"black"},
{"session":4.65,"msec":367.7,"session2":7.99,"msec2":367.7,"cond":"black"}
 ],
 "iconH": [
{"session":22.29,"msec":334.2,"session2":24.13,"msec2":366.5,"cond":"red"},
{"session":24.4,"msec":366.5,"session2":26.28,"msec2":334.2,"cond":"green"},
{"session":24.21,"msec":368.6,"session2":24.21,"msec2":330,"cond":"black"},
{"session":21.06,"msec":367.7,"session2":24.35,"msec2":367.7,"cond":"black"}
 ]
},
"concat": [
 {"width": 200, "height": 36, "data": {"name": "bar"}, "mark": {"type": "rule", "color": "#000000", "strokeWidth": 4, "strokeCap": "butt"}, "encoding": {"x": {"field": "from", "type": "quantitative", "scale": {"domain": [0, 1], "nice": false}, "axis": null}, "x2": {"field": "to"}, "y": {"field": "level", "type": "quantitative", "scale": {"domain": [0, 1], "nice": false}, "axis": null}}},
 {"width": 101, "height": 36, "data": {"name": "bar"}, "mark": {"type": "rule", "color": "#000000", "strokeWidth": 4, "strokeCap": "butt"}, "encoding": {"x": {"field": "from", "type": "quantitative", "scale": {"domain": [0, 1], "nice": false}, "axis": null}, "x2": {"field": "to"}, "y": {"field": "level", "type": "quantitative", "scale": {"domain": [0, 1], "nice": false}, "axis": null}}},
 {"width": 325, "height": 36, "data": {"name": "bar"}, "mark": {"type": "rule", "color": "#000000", "strokeWidth": 4, "strokeCap": "butt"}, "encoding": {"x": {"field": "from", "type": "quantitative", "scale": {"domain": [0, 1], "nice": false}, "axis": null}, "x2": {"field": "to"}, "y": {"field": "level", "type": "quantitative", "scale": {"domain": [0, 1], "nice": false}, "axis": null}}},
 {"width": 101, "height": 36, "data": {"name": "bar"}, "mark": {"type": "rule", "color": "#000000", "strokeWidth": 4, "strokeCap": "butt"}, "encoding": {"x": {"field": "from", "type": "quantitative", "scale": {"domain": [0, 1], "nice": false}, "axis": null}, "x2": {"field": "to"}, "y": {"field": "level", "type": "quantitative", "scale": {"domain": [0, 1], "nice": false}, "axis": null}}},
 {"width": 323, "height": 36, "data": {"name": "bar"}, "mark": {"type": "rule", "color": "#000000", "strokeWidth": 4, "strokeCap": "butt"}, "encoding": {"x": {"field": "from", "type": "quantitative", "scale": {"domain": [0, 1], "nice": false}, "axis": null}, "x2": {"field": "to"}, "y": {"field": "level", "type": "quantitative", "scale": {"domain": [0, 1], "nice": false}, "axis": null}}},

 {"width": 200, "height": 325, "data": {"values": []}, "mark": "point"},
 {"width": 101, "height": 1, "data": {"values": []}, "mark": "point"},
 {"width": 325, "height": 258,
  "encoding": {
   "x": {"field": "session", "type": "quantitative", "scale": {"domain": [0, 66.5], "nice": false, "zero": false}, "axis": {"values": [0,10,20,30,40,50,60], "title": null}},
   "y": {"field": "msec", "type": "quantitative", "scale": {"domain": [50, 350], "nice": false, "zero": false}, "axis": {"values": [50,100,150,200,250,300,350], "labelExpr": "datum.value == 50 || datum.value == 350 ? datum.label : ''", "title": "latency (msec)"}}
  },
  "layer": [
   {"data": {"name": "panelA"}, "mark": {"type": "line", "strokeWidth": 2.8, "strokeJoin": "round", "clip": true}, "encoding": {"color": {"field": "cond", "type": "nominal", "scale": {"domain": ["green","red","black"], "range": ["#1f8a3b","#ed1c24","#000000"]}, "legend": null}}},
   {"data": {"name": "iconA"}, "mark": {"type": "rule", "strokeWidth": 3.5}, "encoding": {"x2": {"field": "session2"}, "y2": {"field": "msec2"}, "color": {"field": "cond", "type": "nominal", "scale": {"domain": ["green","red","black"], "range": ["#1f8a3b","#ed1c24","#000000"]}, "legend": null}}},
   {"data": {"values": [{"session": 34.8, "msec": 333, "label": "upper left"}]}, "mark": {"type": "text", "fontSize": 24, "baseline": "alphabetic", "align": "center", "color": "#1e1e1e"}, "encoding": {"text": {"field": "label"}}},
   {"data": {"values": [{"session": -19, "msec": 347.3, "label": "A"}]}, "mark": {"type": "text", "fontSize": 26, "baseline": "alphabetic", "align": "left", "color": "#111111"}, "encoding": {"text": {"field": "label"}}},
   {"data": {"values": [{"session": -61.2, "msec": 343, "label": "Monkey EM"}]}, "mark": {"type": "text", "fontSize": 28, "baseline": "alphabetic", "align": "left", "color": "#111111"}, "encoding": {"text": {"field": "label"}}}
  ]},
 {"width": 101, "height": 1, "data": {"values": []}, "mark": "point"},
 {"width": 323, "height": 258,
  "encoding": {
   "x": {"field": "session", "type": "quantitative", "scale": {"domain": [0, 66.1], "nice": false, "zero": false}, "axis": {"values": [0,10,20,30,40,50,60], "title": null}},
   "y": {"field": "msec", "type": "quantitative", "scale": {"domain": [50, 350], "nice": false, "zero": false}, "axis": {"values": [50,100,150,200,250,300,350], "labelExpr": "datum.value == 50 || datum.value == 350 ? datum.label : ''", "title": null}}
  },
  "layer": [
   {"data": {"name": "panelB"}, "mark": {"type": "line", "strokeWidth": 2.8, "strokeJoin": "round", "clip": true}, "encoding": {"color": {"field": "cond", "type": "nominal", "scale": {"domain": ["green","red","black"], "range": ["#1f8a3b","#ed1c24","#000000"]}, "legend": null}}},
   {"data": {"name": "iconB"}, "mark": {"type": "rule", "strokeWidth": 3.5}, "encoding": {"x2": {"field": "session2"}, "y2": {"field": "msec2"}, "color": {"field": "cond", "type": "nominal", "scale": {"domain": ["green","red","black"], "range": ["#1f8a3b","#ed1c24","#000000"]}, "legend": null}}},
   {"data": {"values": [{"session": 31.37, "msec": 333, "label": "upper right"}]}, "mark": {"type": "text", "fontSize": 24, "baseline": "alphabetic", "align": "center", "color": "#1e1e1e"}, "encoding": {"text": {"field": "label"}}},
   {"data": {"values": [{"session": -15.96, "msec": 347.3, "label": "B"}]}, "mark": {"type": "text", "fontSize": 26, "baseline": "alphabetic", "align": "left", "color": "#111111"}, "encoding": {"text": {"field": "label"}}}
  ]},

 {"width": 200, "height": 314, "data": {"values": []}, "mark": "point"},
 {"width": 101, "height": 1, "data": {"values": []}, "mark": "point"},
 {"width": 325, "height": 258,
  "encoding": {
   "x": {"field": "session", "type": "quantitative", "scale": {"domain": [0, 66.5], "nice": false, "zero": false}, "axis": {"values": [0,10,20,30,40,50,60], "title": null}},
   "y": {"field": "msec", "type": "quantitative", "scale": {"domain": [50, 350], "nice": false, "zero": false}, "axis": {"values": [50,100,150,200,250,300,350], "labelExpr": "datum.value == 50 || datum.value == 350 ? datum.label : ''", "title": "latency (msec)"}}
  },
  "layer": [
   {"data": {"name": "panelC"}, "mark": {"type": "line", "strokeWidth": 2.8, "strokeJoin": "round", "clip": true}, "encoding": {"color": {"field": "cond", "type": "nominal", "scale": {"domain": ["green","red","black"], "range": ["#1f8a3b","#ed1c24","#000000"]}, "legend": null}, "detail": {"field": "run", "type": "nominal"}}},
   {"data": {"name": "iconC"}, "mark": {"type": "rule", "strokeWidth": 3.5}, "encoding": {"x2": {"field": "session2"}, "y2": {"field": "msec2"}, "color": {"field": "cond", "type": "nominal", "scale": {"domain": ["green","red","black"], "range": ["#1f8a3b","#ed1c24","#000000"]}, "legend": null}}},
   {"data": {"values": [{"session": 34.9, "msec": 345.7, "label": "lower left"}]}, "mark": {"type": "text", "fontSize": 24, "baseline": "alphabetic", "align": "center", "color": "#1e1e1e"}, "encoding": {"text": {"field": "label"}}},
   {"data": {"values": [{"session": -18.8, "msec": 339.5, "label": "C"}]}, "mark": {"type": "text", "fontSize": 26, "baseline": "alphabetic", "align": "left", "color": "#111111"}, "encoding": {"text": {"field": "label"}}}
  ]},
 {"width": 101, "height": 1, "data": {"values": []}, "mark": "point"},
 {"width": 323, "height": 258,
  "encoding": {
   "x": {"field": "session", "type": "quantitative", "scale": {"domain": [0, 66.1], "nice": false, "zero": false}, "axis": {"values": [0,10,20,30,40,50,60], "title": null}},
   "y": {"field": "msec", "type": "quantitative", "scale": {"domain": [50, 350], "nice": false, "zero": false}, "axis": {"values": [50,100,150,200,250,300,350], "labelExpr": "datum.value == 50 || datum.value == 350 ? datum.label : ''", "title": null}}
  },
  "layer": [
   {"data": {"name": "panelD"}, "mark": {"type": "line", "strokeWidth": 2.8, "strokeJoin": "round", "clip": true}, "encoding": {"color": {"field": "cond", "type": "nominal", "scale": {"domain": ["green","red","black"], "range": ["#1f8a3b","#ed1c24","#000000"]}, "legend": null}}},
   {"data": {"name": "iconD"}, "mark": {"type": "rule", "strokeWidth": 3.5}, "encoding": {"x2": {"field": "session2"}, "y2": {"field": "msec2"}, "color": {"field": "cond", "type": "nominal", "scale": {"domain": ["green","red","black"], "range": ["#1f8a3b","#ed1c24","#000000"]}, "legend": null}}},
   {"data": {"values": [{"session": 32.0, "msec": 338.7, "label": "lower right"}]}, "mark": {"type": "text", "fontSize": 24, "baseline": "alphabetic", "align": "center", "color": "#1e1e1e"}, "encoding": {"text": {"field": "label"}}},
   {"data": {"values": [{"session": -15.76, "msec": 339.5, "label": "D"}]}, "mark": {"type": "text", "fontSize": 26, "baseline": "alphabetic", "align": "left", "color": "#111111"}, "encoding": {"text": {"field": "label"}}}
  ]},

 {"width": 200, "height": 43, "data": {"name": "bar"}, "mark": {"type": "rule", "color": "#000000", "strokeWidth": 4, "strokeCap": "butt"}, "encoding": {"x": {"field": "from", "type": "quantitative", "scale": {"domain": [0, 1], "nice": false}, "axis": null}, "x2": {"field": "to"}, "y": {"field": "level", "type": "quantitative", "scale": {"domain": [0, 1], "nice": false}, "axis": null}}},
 {"width": 101, "height": 43, "data": {"name": "bar"}, "mark": {"type": "rule", "color": "#000000", "strokeWidth": 4, "strokeCap": "butt"}, "encoding": {"x": {"field": "from", "type": "quantitative", "scale": {"domain": [0, 1], "nice": false}, "axis": null}, "x2": {"field": "to"}, "y": {"field": "level", "type": "quantitative", "scale": {"domain": [0, 1], "nice": false}, "axis": null}}},
 {"width": 325, "height": 43, "data": {"name": "bar"}, "mark": {"type": "rule", "color": "#000000", "strokeWidth": 4, "strokeCap": "butt"}, "encoding": {"x": {"field": "from", "type": "quantitative", "scale": {"domain": [0, 1], "nice": false}, "axis": null}, "x2": {"field": "to"}, "y": {"field": "level", "type": "quantitative", "scale": {"domain": [0, 1], "nice": false}, "axis": null}}},
 {"width": 101, "height": 43, "data": {"name": "bar"}, "mark": {"type": "rule", "color": "#000000", "strokeWidth": 4, "strokeCap": "butt"}, "encoding": {"x": {"field": "from", "type": "quantitative", "scale": {"domain": [0, 1], "nice": false}, "axis": null}, "x2": {"field": "to"}, "y": {"field": "level", "type": "quantitative", "scale": {"domain": [0, 1], "nice": false}, "axis": null}}},
 {"width": 323, "height": 43, "data": {"name": "bar"}, "mark": {"type": "rule", "color": "#000000", "strokeWidth": 4, "strokeCap": "butt"}, "encoding": {"x": {"field": "from", "type": "quantitative", "scale": {"domain": [0, 1], "nice": false}, "axis": null}, "x2": {"field": "to"}, "y": {"field": "level", "type": "quantitative", "scale": {"domain": [0, 1], "nice": false}, "axis": null}}},

 {"width": 200, "height": 337, "data": {"values": []}, "mark": "point"},
 {"width": 101, "height": 1, "data": {"values": []}, "mark": "point"},
 {"width": 325, "height": 258,
  "encoding": {
   "x": {"field": "session", "type": "quantitative", "scale": {"domain": [0, 26.7], "nice": false, "zero": false}, "axis": {"values": [0,5,10,15,20,25], "title": null}},
   "y": {"field": "msec", "type": "quantitative", "scale": {"domain": [100, 350], "nice": false, "zero": false}, "axis": {"values": [100,150,200,250,300,350], "labelExpr": "datum.value == 100 || datum.value == 350 ? datum.label : ''", "title": "latency (msec)"}}
  },
  "layer": [
   {"data": {"name": "panelE"}, "mark": {"type": "line", "strokeWidth": 2.8, "strokeJoin": "round", "clip": true}, "encoding": {"color": {"field": "cond", "type": "nominal", "scale": {"domain": ["green","red","black"], "range": ["#1f8a3b","#ed1c24","#000000"]}, "legend": null}}},
   {"data": {"name": "iconE"}, "mark": {"type": "rule", "strokeWidth": 3.5}, "encoding": {"x2": {"field": "session2"}, "y2": {"field": "msec2"}, "color": {"field": "cond", "type": "nominal", "scale": {"domain": ["green","red","black"], "range": ["#1f8a3b","#ed1c24","#000000"]}, "legend": null}}},
   {"data": {"values": [{"session": 13.97, "msec": 329.7, "label": "upper left"}]}, "mark": {"type": "text", "fontSize": 24, "baseline": "alphabetic", "align": "center", "color": "#1e1e1e"}, "encoding": {"text": {"field": "label"}}},
   {"data": {"values": [{"session": -7.75, "msec": 336.4, "label": "E"}]}, "mark": {"type": "text", "fontSize": 26, "baseline": "alphabetic", "align": "left", "color": "#111111"}, "encoding": {"text": {"field": "label"}}},
   {"data": {"values": [{"session": -24.57, "msec": 336.4, "label": "Monkey CH"}]}, "mark": {"type": "text", "fontSize": 28, "baseline": "alphabetic", "align": "left", "color": "#111111"}, "encoding": {"text": {"field": "label"}}}
  ]},
 {"width": 101, "height": 1, "data": {"values": []}, "mark": "point"},
 {"width": 323, "height": 258,
  "encoding": {
   "x": {"field": "session", "type": "quantitative", "scale": {"domain": [0, 26.5], "nice": false, "zero": false}, "axis": {"values": [0,5,10,15,20,25], "title": null}},
   "y": {"field": "msec", "type": "quantitative", "scale": {"domain": [100, 350], "nice": false, "zero": false}, "axis": {"values": [100,150,200,250,300,350], "labelExpr": "datum.value == 100 || datum.value == 350 ? datum.label : ''", "title": null}}
  },
  "layer": [
   {"data": {"name": "panelF"}, "mark": {"type": "line", "strokeWidth": 2.8, "strokeJoin": "round", "clip": true}, "encoding": {"color": {"field": "cond", "type": "nominal", "scale": {"domain": ["green","red","black"], "range": ["#1f8a3b","#ed1c24","#000000"]}, "legend": null}}},
   {"data": {"name": "iconF"}, "mark": {"type": "rule", "strokeWidth": 3.5}, "encoding": {"x2": {"field": "session2"}, "y2": {"field": "msec2"}, "color": {"field": "cond", "type": "nominal", "scale": {"domain": ["green","red","black"], "range": ["#1f8a3b","#ed1c24","#000000"]}, "legend": null}}},
   {"data": {"values": [{"session": 12.63, "msec": 329.7, "label": "upper right"}]}, "mark": {"type": "text", "fontSize": 24, "baseline": "alphabetic", "align": "center", "color": "#1e1e1e"}, "encoding": {"text": {"field": "label"}}},
   {"data": {"values": [{"session": -6.33, "msec": 337.4, "label": "F"}]}, "mark": {"type": "text", "fontSize": 26, "baseline": "alphabetic", "align": "left", "color": "#111111"}, "encoding": {"text": {"field": "label"}}}
  ]},

 {"width": 200, "height": 1, "data": {"values": []}, "mark": "point"},
 {"width": 101, "height": 1, "data": {"values": []}, "mark": "point"},
 {"width": 325, "height": 258,
  "encoding": {
   "x": {"field": "session", "type": "quantitative", "scale": {"domain": [0, 26.7], "nice": false, "zero": false}, "axis": {"values": [0,5,10,15,20,25], "title": "session"}},
   "y": {"field": "msec", "type": "quantitative", "scale": {"domain": [100, 350], "nice": false, "zero": false}, "axis": {"values": [100,150,200,250,300,350], "labelExpr": "datum.value == 100 || datum.value == 350 ? datum.label : ''", "title": "latency (msec)"}}
  },
  "layer": [
   {"data": {"name": "panelG"}, "mark": {"type": "line", "strokeWidth": 2.8, "strokeJoin": "round", "clip": true}, "encoding": {"color": {"field": "cond", "type": "nominal", "scale": {"domain": ["green","red","black"], "range": ["#1f8a3b","#ed1c24","#000000"]}, "legend": null}}},
   {"data": {"name": "iconG"}, "mark": {"type": "rule", "strokeWidth": 3.5}, "encoding": {"x2": {"field": "session2"}, "y2": {"field": "msec2"}, "color": {"field": "cond", "type": "nominal", "scale": {"domain": ["green","red","black"], "range": ["#1f8a3b","#ed1c24","#000000"]}, "legend": null}}},
   {"data": {"values": [{"session": 14.03, "msec": 354.2, "label": "lower left"}]}, "mark": {"type": "text", "fontSize": 24, "baseline": "alphabetic", "align": "center", "color": "#1e1e1e"}, "encoding": {"text": {"field": "label"}}},
   {"data": {"values": [{"session": -7.64, "msec": 347.1, "label": "G"}]}, "mark": {"type": "text", "fontSize": 26, "baseline": "alphabetic", "align": "left", "color": "#111111"}, "encoding": {"text": {"field": "label"}}}
  ]},
 {"width": 101, "height": 1, "data": {"values": []}, "mark": "point"},
 {"width": 323, "height": 258,
  "encoding": {
   "x": {"field": "session", "type": "quantitative", "scale": {"domain": [0, 26.5], "nice": false, "zero": false}, "axis": {"values": [0,5,10,15,20,25], "title": "session"}},
   "y": {"field": "msec", "type": "quantitative", "scale": {"domain": [100, 350], "nice": false, "zero": false}, "axis": {"values": [100,150,200,250,300,350], "labelExpr": "datum.value == 100 || datum.value == 350 ? datum.label : ''", "title": null}}
  },
  "layer": [
   {"data": {"name": "panelH"}, "mark": {"type": "line", "strokeWidth": 2.8, "strokeJoin": "round", "clip": true}, "encoding": {"color": {"field": "cond", "type": "nominal", "scale": {"domain": ["green","red","black"], "range": ["#1f8a3b","#ed1c24","#000000"]}, "legend": null}}},
   {"data": {"name": "iconH"}, "mark": {"type": "rule", "strokeWidth": 3.5}, "encoding": {"x2": {"field": "session2"}, "y2": {"field": "msec2"}, "color": {"field": "cond", "type": "nominal", "scale": {"domain": ["green","red","black"], "range": ["#1f8a3b","#ed1c24","#000000"]}, "legend": null}}},
   {"data": {"values": [{"session": 13.0, "msec": 354.2, "label": "lower right"}]}, "mark": {"type": "text", "fontSize": 24, "baseline": "alphabetic", "align": "center", "color": "#1e1e1e"}, "encoding": {"text": {"field": "label"}}},
   {"data": {"values": [{"session": -6.24, "msec": 345.2, "label": "H"}]}, "mark": {"type": "text", "fontSize": 26, "baseline": "alphabetic", "align": "left", "color": "#111111"}, "encoding": {"text": {"field": "label"}}}
  ]}
]
}
